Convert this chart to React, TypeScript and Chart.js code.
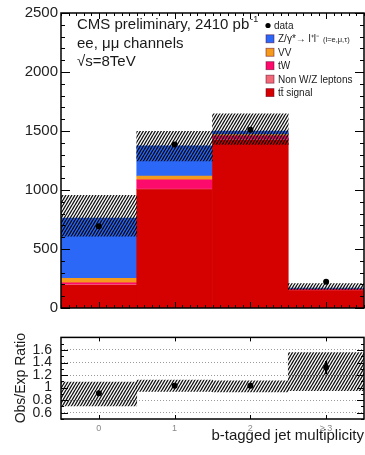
import { useEffect, useRef } from "react";
import { Chart, registerables } from "chart.js";

Chart.register(...registerables);

const FONT = "'Liberation Sans', Arial, Helvetica, sans-serif";

// b-tag multiplicity bins
const bins = ["0", "1", "2", "≥ 3"];

// stacked expectation (events), bottom to top
const ttSignal = [192, 1003, 1420, 148];
const nonWZ = [6, 5, 5, 2];
const tW = [16, 78, 35, 8];
const vv = [38, 33, 10, 2];
const dyLL = [509, 256, 30, 8];

// observed events and total-uncertainty band
const dataCounts = [692, 1386, 1511, 222];
const bandLow = [608, 1247, 1386, 155];
const bandHigh = [955, 1497, 1645, 206];
const mainTicks = [0, 500, 1000, 1500, 2000, 2500];

// ratio panel
const ratio = [0.91, 1.03, 1.03, 1.32];
const ratioErr = [0.03, 0.03, 0.03, 0.1];
const ratioBandLow = [0.71, 0.94, 0.93, 0.95];
const ratioBandHigh = [1.09, 1.12, 1.11, 1.56];
const ratioTicks = [0.6, 0.8, 1, 1.2, 1.4, 1.6];

// legend
const legendLabels = ["Z/γ*→ l⁺l⁻", "VV", "tW", "Non W/Z leptons", "tt̄ signal"];
const legendColors = ["#2c68f8", "#f49a1c", "#fc0a6c", "#f06a78", "#d50000"];

const COL_TT = "#d50000";
const COL_NONWZ = "#f06a78";
const COL_TW = "#fc0a6c";
const COL_VV = "#f49a1c";
const COL_Z = "#2c68f8";

// dense diagonal hatch for the uncertainty bands
function makeHatch(color: string): CanvasPattern | string {
  const c = document.createElement("canvas");
  const w = 3;
  const h = 5;
  c.width = w;
  c.height = h;
  const g = c.getContext("2d");
  if (!g) return color;
  g.strokeStyle = color;
  g.lineWidth = 1.4;
  g.beginPath();
  for (const dx of [-w, 0, w]) {
    g.moveTo(dx, h);
    g.lineTo(dx + w, 0);
  }
  g.stroke();
  return g.createPattern(c, "repeat") || color;
}

type TickSpec = {
  yMin: number;
  yMax: number;
  yMinor: number;
  yMajor: number;
  yMajorLen: number;
  yMinorLen: number;
  xMinor: number;
  xMajorLen: number;
  xMinorLen: number;
};

// inward ticks on all four sides plus the frame
function frameTicks(spec: TickSpec) {
  return {
    id: "frameTicks",
    afterDatasetsDraw(chart: any) {
      const { ctx, chartArea: a } = chart;
      const xs = chart.scales.x;
      const ys = chart.scales.y;
      ctx.save();
      ctx.strokeStyle = "#000";
      ctx.lineWidth = 1;
      ctx.beginPath();
      const ny = Math.round((spec.yMax - spec.yMin) / spec.yMinor);
      for (let i = 0; i <= ny; i++) {
        const v = spec.yMin + i * spec.yMinor;
        const q = v / spec.yMajor;
        const major = Math.abs(q - Math.round(q)) < 1e-6;
        const len = major ? spec.yMajorLen : spec.yMinorLen;
        if (len <= 0) continue;
        const py = Math.round(ys.getPixelForValue(v)) + 0.5;
        ctx.moveTo(a.left, py);
        ctx.lineTo(a.left + len, py);
        ctx.moveTo(a.right, py);
        ctx.lineTo(a.right - len, py);
      }
      const c0 = xs.getPixelForValue(0);
      const w = xs.getPixelForValue(1) - c0;
      const nx = Math.round(bins.length / spec.xMinor);
      for (let i = 0; i <= nx; i++) {
        const v = -0.5 + i * spec.xMinor;
        const major = Math.abs(v - Math.round(v)) < 1e-6;
        const len = major ? spec.xMajorLen : spec.xMinorLen;
        if (len <= 0) continue;
        const px = Math.round(c0 + v * w) + 0.5;
        ctx.moveTo(px, a.bottom);
        ctx.lineTo(px, a.bottom - len);
        ctx.moveTo(px, a.top);
        ctx.lineTo(px, a.top + len);
      }
      ctx.stroke();
      ctx.lineWidth = 1.5;
      ctx.strokeRect(a.left, a.top, a.right - a.left, a.bottom - a.top);
      ctx.restore();
    },
  };
}

// experiment label and legend
const annotations = {
  id: "annotations",
  afterDraw(chart: any) {
    const ctx = chart.ctx as CanvasRenderingContext2D;
    ctx.save();
    ctx.fillStyle = "#1a1a1a";
    ctx.textBaseline = "alphabetic";
    ctx.textAlign = "left";
    const head = "CMS preliminary, 2410 pb";
    ctx.font = `15px ${FONT}`;
    ctx.fillText(head, 77, 29);
    const hw = ctx.measureText(head).width;
    ctx.font = `9px ${FONT}`;
    ctx.fillText("-1", 77 + hw + 1, 22);
    ctx.font = `15px ${FONT}`;
    ctx.fillText("ee, μμ channels", 77, 48);
    ctx.fillText("√s=8TeV", 77, 66);

    // legend
    ctx.font = `10px ${FONT}`;
    ctx.fillStyle = "#000";
    ctx.beginPath();
    ctx.arc(268, 25.5, 2.6, 0, Math.PI * 2);
    ctx.fill();
    ctx.fillStyle = "#1a1a1a";
    ctx.fillText("data", 274, 29);
    legendLabels.forEach((lab, i) => {
      const cy = 38.8 + i * 13.45;
      ctx.fillStyle = legendColors[i];
      ctx.fillRect(266, cy - 4, 8, 8);
      ctx.strokeStyle = "rgba(90,0,40,0.6)";
      ctx.lineWidth = 0.8;
      ctx.strokeRect(266, cy - 4, 8, 8);
      ctx.fillStyle = "#1a1a1a";
      ctx.font = `10px ${FONT}`;
      ctx.fillText(lab, 278, cy + 3.5);
      if (i === 0) {
        const lw = ctx.measureText(lab).width;
        ctx.font = `7.5px ${FONT}`;
        ctx.fillText("(l=e,μ,τ)", 278 + lw + 4, cy + 3.5);
      }
    });
    ctx.restore();
  },
};

export default function App() {
  const mainRef = useRef<HTMLCanvasElement>(null);
  const ratioRef = useRef<HTMLCanvasElement>(null);

  useEffect(() => {
    if (!mainRef.current || !ratioRef.current) return;
    const hatch = makeHatch("rgba(0,0,0,0.92)");
    const barDefaults = { barPercentage: 1, categoryPercentage: 1, borderWidth: 0, grouped: false };

    const main = new Chart(mainRef.current, {
      type: "bar",
      data: {
        labels: bins,
        datasets: [
          {
            type: "line",
            label: "data",
            data: dataCounts,
            showLine: false,
            pointRadius: 3,
            pointBackgroundColor: "#000",
            pointBorderWidth: 0,
            order: 0,
            stack: "obs",
          } as any,
          {
            label: "uncertainty",
            data: bins.map((_, i) => [bandLow[i], bandHigh[i]]),
            backgroundColor: hatch as any,
            order: 1,
            stack: "band",
          },
          { label: "tt signal", data: ttSignal, backgroundColor: COL_TT, order: 2, stack: "mc" },
          { label: "Non W/Z leptons", data: nonWZ, backgroundColor: COL_NONWZ, order: 2, stack: "mc" },
          { label: "tW", data: tW, backgroundColor: COL_TW, order: 2, stack: "mc" },
          { label: "VV", data: vv, backgroundColor: COL_VV, order: 2, stack: "mc" },
          { label: "Z/γ*", data: dyLL, backgroundColor: COL_Z, order: 2, stack: "mc" },
        ],
      },
      options: {
        animation: false,
        responsive: false,
        devicePixelRatio: 1,
        layout: { padding: { top: 13, bottom: 7, right: 2, left: 0 } },
        datasets: { bar: barDefaults as any },
        plugins: { legend: { display: false }, tooltip: { enabled: false } },
        scales: {
          x: { display: false, stacked: true, offset: true },
          y: {
            stacked: true,
            min: 0,
            max: 2500,
            afterBuildTicks: (s: any) => {
              s.ticks = mainTicks.map((v) => ({ value: v }));
            },
            afterFit: (s: any) => {
              s.width = 61;
            },
            grid: { display: false, drawTicks: false },
            border: { display: false },
            ticks: {
              font: { family: FONT, size: 15 },
              color: "#222",
              padding: 3,
              autoSkip: false,
              callback: (v: any) => String(v),
            },
          },
        },
      },
      plugins: [
        frameTicks({
          yMin: 0,
          yMax: 2500,
          yMinor: 100,
          yMajor: 500,
          yMajorLen: 9,
          yMinorLen: 4,
          xMinor: 0.1,
          xMajorLen: 6,
          xMinorLen: 3,
        }),
        annotations,
      ],
    });

    const ratioChart = new Chart(ratioRef.current, {
      type: "bar",
      data: {
        labels: bins,
        datasets: [
          {
            type: "line",
            label: "ratio",
            data: ratio,
            showLine: false,
            pointRadius: 3,
            pointBackgroundColor: "#000",
            pointBorderWidth: 0,
            order: 0,
            stack: "obs",
          } as any,
          {
            label: "stat",
            data: bins.map((_, i) => [ratio[i] - ratioErr[i], ratio[i] + ratioErr[i]]),
            backgroundColor: "#000",
            barThickness: 1.5,
            order: 0.5,
            stack: "err",
          },
          {
            label: "uncertainty",
            data: bins.map((_, i) => [ratioBandLow[i], ratioBandHigh[i]]),
            backgroundColor: hatch as any,
            order: 1,
            stack: "band",
          },
        ],
      },
      options: {
        animation: false,
        responsive: false,
        devicePixelRatio: 1,
        layout: { padding: { top: 7, bottom: 0, right: 2, left: 0 } },
        datasets: { bar: barDefaults as any },
        plugins: { legend: { display: false }, tooltip: { enabled: false } },
        scales: {
          x: {
            stacked: true,
            offset: true,
            grid: { display: false, drawTicks: false },
            border: { display: false },
            ticks: { font: { family: FONT, size: 9 }, color: "#888", padding: 4 },
            afterFit: (s: any) => {
              s.height = 36;
            },
            title: {
              display: true,
              text: "b-tagged jet multiplicity",
              align: "end",
              color: "#1a1a1a",
              font: { family: FONT, size: 15 },
              padding: { top: 0, bottom: 10 },
            },
          },
          y: {
            stacked: true,
            min: 0.5,
            max: 1.8,
            afterBuildTicks: (s: any) => {
              s.ticks = ratioTicks.map((v) => ({ value: v }));
            },
            afterFit: (s: any) => {
              s.width = 61;
            },
            grid: { color: "#9a9a9a", lineWidth: 1, drawTicks: false },
            border: { display: false, dash: [1, 2] },
            ticks: {
              font: { family: FONT, size: 14 },
              color: "#222",
              padding: 9,
              autoSkip: false,
              callback: (v: any) => String(v),
            },
            title: {
              display: true,
              text: "Obs/Exp Ratio",
              color: "#1a1a1a",
              font: { family: FONT, size: 14 },
              padding: { top: 13, bottom: 0 },
            },
          },
        },
      },
      plugins: [
        frameTicks({
          yMin: 0.5,
          yMax: 1.8,
          yMinor: 0.1,
          yMajor: 0.2,
          yMajorLen: 7,
          yMinorLen: 3,
          xMinor: 0.5,
          xMajorLen: 4,
          xMinorLen: 0,
        }),
      ],
    });

    return () => {
      main.destroy();
      ratioChart.destroy();
    };
  }, []);

  return (
    <div
      style={{
        position: "fixed",
        left: 0,
        top: 0,
        width: 365,
        height: 455,
        overflow: "hidden",
        background: "#fff",
      }}
    >
      <canvas
        ref={mainRef}
        width={368}
        height={320}
        style={{ position: "absolute", left: 0, top: 0, width: 368, height: 320, display: "block" }}
      />
      <canvas
        ref={ratioRef}
        width={368}
        height={135}
        style={{ position: "absolute", left: 0, top: 320, width: 368, height: 135, display: "block" }}
      />
    </div>
  );
}
